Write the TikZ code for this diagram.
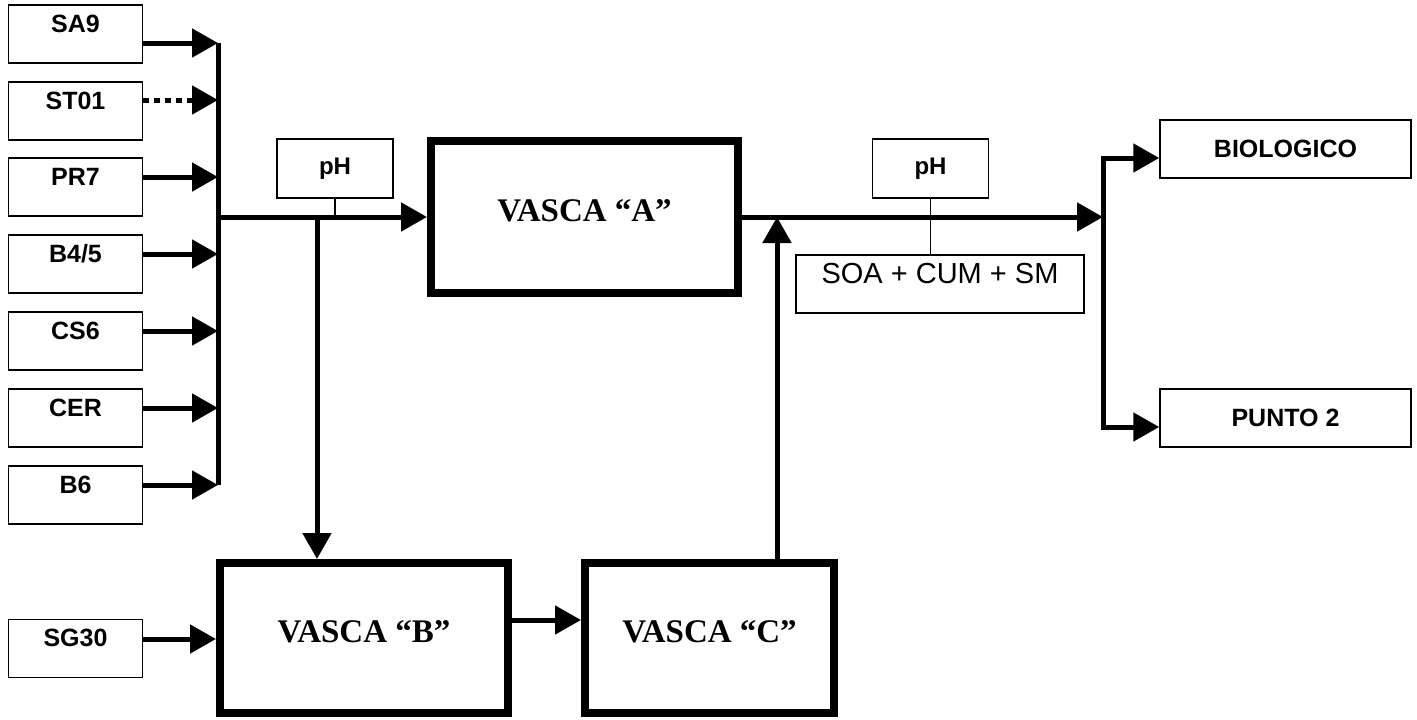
\documentclass[tikz,border=0pt]{standalone}
\usepackage{fontspec}
\setmainfont{Liberation Serif}
\setsansfont{Liberation Sans}
\usetikzlibrary{arrows.meta}

\tikzset{
  srcbox/.style={draw, line width=1.5pt, inner sep=0pt, minimum width=134pt,
    minimum height=58pt, text height=27pt, text depth=31pt,
    font=\sffamily\bfseries\fontsize{25}{30}\selectfont},
  outbox/.style={draw, line width=1.5pt, inner sep=0pt, minimum width=251pt,
    minimum height=58pt, font=\sffamily\bfseries\fontsize{25}{30}\selectfont},
  phbox/.style={draw, line width=1.5pt, inner sep=0pt, minimum width=116pt,
    minimum height=59pt, font=\sffamily\bfseries\fontsize{24}{28}\selectfont},
  soabox/.style={draw, line width=1.5pt, inner sep=0pt, minimum width=288pt,
    minimum height=58pt, text height=28pt, text depth=30pt,
    font=\sffamily\fontsize{29}{33}\selectfont},
  vasca/.style={draw, line width=8pt, inner sep=0pt, text depth=12pt,
    font=\rmfamily\bfseries\fontsize{33}{38}\selectfont},
  flow/.style={line width=5pt, -{Triangle[length=26pt,width=28pt]}},
  bus/.style={line width=5pt},
  tick/.style={line width=1.5pt}
}

\begin{document}
\begin{tikzpicture}[x=1pt,y=-1pt]
\useasboundingbox (0,0) rectangle (1417,720);

% scarichi in ingresso
\foreach \nm/\lab/\top/\ay in {sa9/SA9/5/43, st01/ST01/82/100, pr7/PR7/158/177,
    b45/{B4/5}/235/254, cs6/CS6/312/331, cer/CER/389/408, b6/B6/466/485}{
  \node[srcbox] (\nm) at (75.5,\top+29) {\lab};
  \coordinate (in-\nm) at (218,\ay);
}
\node[srcbox] (sg30) at (75.5,648.5) {SG30};

% vasche
\node[vasca, minimum width=307pt, minimum height=152pt] (a) at (584.5,217) {VASCA “A”};
\node[vasca, minimum width=288pt, minimum height=150pt] (b) at (364,638) {VASCA “B”};
\node[vasca, minimum width=249pt, minimum height=150pt] (c) at (709.5,638) {VASCA “C”};

\node[phbox] (ph1) at (335,168.5) {pH};
\node[phbox] (ph2) at (930.5,168.5) {pH};
\node[soabox] (soa) at (940,284) {SOA + CUM + SM};

\node[outbox] (bio) at (1285.5,149) {BIOLOGICO};
\node[outbox] (p2) at (1285.5,418) {PUNTO 2};

\coordinate (join) at (218,217);
\coordinate (split) at (317,217);
\coordinate (merge) at (777,217);
\coordinate (fork) at (1103,217);
\coordinate (sgin) at (216,639);

% collegamenti
\foreach \nm in {sa9,pr7,b45,cs6,cer,b6}
  \draw[flow] (\nm.east |- in-\nm) -- (in-\nm);
\draw[flow, dash pattern=on 6pt off 5pt] (st01.east |- in-st01) -- (in-st01);
\draw[bus] (in-sa9) -- (in-b6);

\draw[tick] (ph1.south) -- (ph1.south |- join);
\draw[tick] (ph2.south) -- (ph2.south |- soa.north);
\draw[flow] (join) -- (a.west);
\draw[flow] (split) -- (split |- b.north);
\draw[flow] (sg30.east |- sgin) -- (b.west |- sgin);
\draw[flow] ([yshift=18pt]b.east) -- ([yshift=18pt]c.west);
\draw[flow] (merge |- c.north) -- (merge);
\draw[flow] (a.east) -- (fork);
\draw[flow] (fork) |- ([yshift=-9pt]bio.west);
\draw[flow] (fork) |- ([yshift=-9pt]p2.west);
\end{tikzpicture}
\end{document}
